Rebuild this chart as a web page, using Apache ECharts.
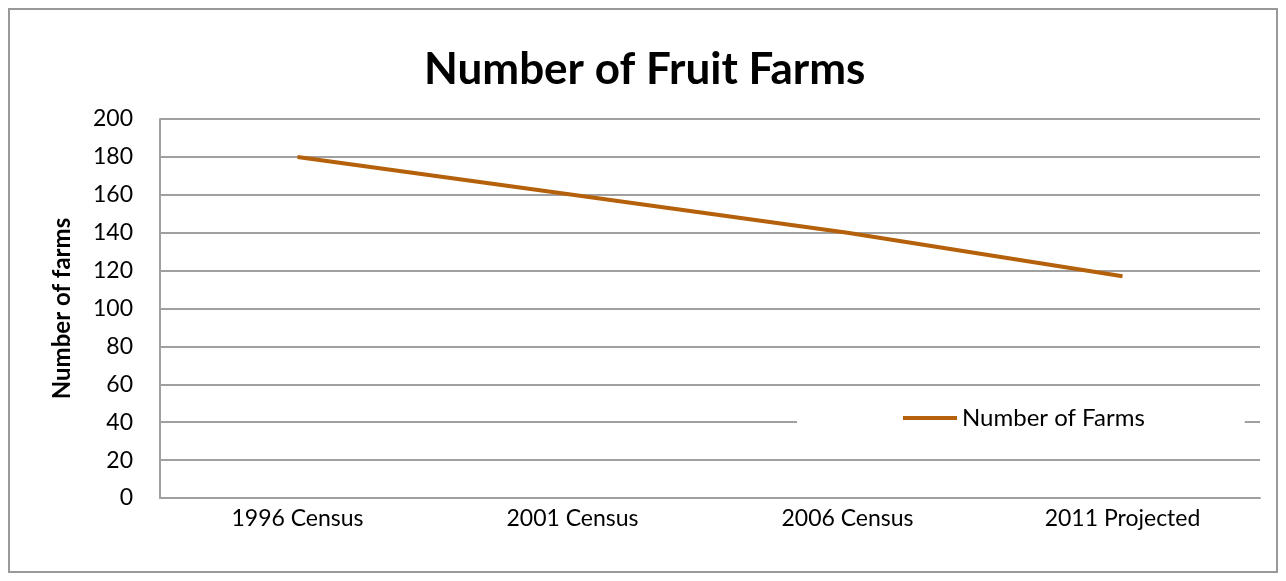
<!DOCTYPE html>
<html>
<head>
<meta charset="utf-8">
<title>Number of Fruit Farms</title>
<script src="https://cdn.jsdelivr.net/npm/echarts@6/dist/echarts.min.js"></script>
<style>
  html, body { margin: 0; padding: 0; background: #ffffff; }
  #chart { width: 1286px; height: 581px; }
</style>
</head>
<body>
<div id="chart"></div>
<script>
// Census years and the projected year
const categories = ['1996 Census', '2001 Census', '2006 Census', '2011 Projected'];
// Number of fruit farms counted in each year
const farmCounts = [180, 160, 140, 117];
const seriesName = 'Number of Farms';
const titleText = 'Number of Fruit Farms';
const yAxisTitle = 'Number of farms';
// Value axis range
const yMin = 0;
const yMax = 200;
const yStep = 20;

const FONT = 'Lato, "Open Sans", sans-serif';
const GRID_GREY = '#a0a0a0';
const LINE_COLOR = '#b5600a';

const chart = echarts.init(document.getElementById('chart'), null, { renderer: 'canvas' });

chart.setOption({
  backgroundColor: '#ffffff',
  animation: false,
  title: {
    text: titleText,
    left: 419,
    top: 43,
    textStyle: { fontFamily: FONT, fontWeight: 'bold', fontSize: 44, color: '#000000' }
  },
  graphic: [{
    type: 'rect',
    shape: { x: 9, y: 9, width: 1268, height: 563 },
    style: { fill: 'none', stroke: '#999999', lineWidth: 2 },
    silent: true
  }],
  legend: {
    left: 797,
    top: 394,
    padding: [12, 100, 12, 106],
    backgroundColor: '#ffffff',
    icon: 'rect',
    itemWidth: 54,
    itemHeight: 4,
    itemGap: 10,
    textStyle: { fontFamily: FONT, fontSize: 24, color: '#000000' },
    data: [seriesName]
  },
  grid: { left: 160, right: 26, top: 119, bottom: 83, containLabel: false },
  xAxis: {
    type: 'category',
    data: categories,
    boundaryGap: true,
    axisLine: { show: true, lineStyle: { color: GRID_GREY, width: 2 } },
    axisTick: { show: false },
    axisLabel: { fontFamily: FONT, fontSize: 23, color: '#000000', margin: 9 },
    splitLine: { show: false }
  },
  yAxis: {
    type: 'value',
    min: yMin,
    max: yMax,
    interval: yStep,
    name: yAxisTitle,
    nameLocation: 'middle',
    nameRotate: 90,
    nameGap: 86,
    nameTextStyle: { fontFamily: FONT, fontWeight: 'bold', fontSize: 24, color: '#000000' },
    axisLine: { show: true, lineStyle: { color: GRID_GREY, width: 2 } },
    axisTick: { show: false },
    axisLabel: { fontFamily: FONT, fontSize: 23, color: '#000000', margin: 27 },
    splitLine: { show: true, lineStyle: { color: GRID_GREY, width: 2 } }
  },
  series: [{
    name: seriesName,
    type: 'line',
    data: farmCounts,
    symbol: 'none',
    smooth: false,
    z: 3,
    lineStyle: { color: LINE_COLOR, width: 4 },
    itemStyle: { color: LINE_COLOR }
  }]
});
</script>
</body>
</html>
